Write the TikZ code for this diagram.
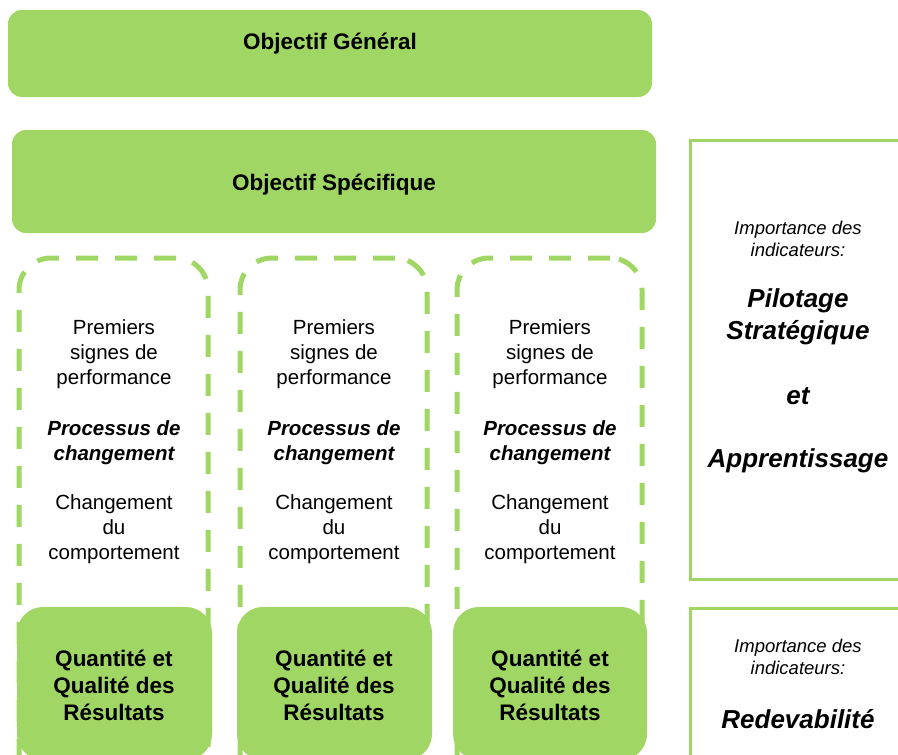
\documentclass[tikz,border=0pt]{standalone}
\usepackage{fontspec}
\setmainfont{Liberation Sans}
\definecolor{leafgreen}{RGB}{160,214,99}
\tikzset{greenbox/.style={fill=leafgreen, draw=none, rounded corners=14pt}}
\tikzset{resultbox/.style={fill=leafgreen, draw=none, rounded corners=26pt}}
\tikzset{dashbox/.style={draw=leafgreen, line width=5pt, dash pattern=on 22pt off 17pt, rounded corners=32pt}}
\tikzset{sidebox/.style={draw=leafgreen, line width=3pt, fill=white}}
\tikzset{coltext/.style={align=center, font=\fontsize{20.5}{25}\selectfont}}
\tikzset{colhead/.style={align=center, font=\fontsize{20.5}{25}\selectfont\bfseries\itshape}}
\tikzset{restext/.style={align=center, font=\fontsize{22.5}{27}\selectfont\bfseries}}
\tikzset{sidesmall/.style={align=center, font=\fontsize{18.5}{22}\selectfont\itshape}}
\tikzset{sidebig/.style={align=center, font=\fontsize{26}{32}\selectfont\bfseries\itshape}}

\begin{document}
\begin{tikzpicture}[x=1pt, y=-1pt]
    \newcommand\posA{114}
    \newcommand\posB{334}
    \newcommand\posC{550}
    \newcommand\posR{798}

    \useasboundingbox (0, 0) rectangle (898, 755);
    \clip (0, 0) rectangle (898, 755);

    \node[greenbox, minimum width=644pt, minimum height=87pt] (gen) at (330, 53.5){};
    \node[font=\fontsize{22.5}{27}\selectfont\bfseries] (genlab) at (330, 43.5){Objectif Général};
    \node[greenbox, minimum width=644pt, minimum height=103pt] (spec) at (334, 181.5){};
    \node[font=\fontsize{22.5}{27}\selectfont\bfseries] (speclab) at (334, 184.5){Objectif Spécifique};

    \node[dashbox, minimum width=189pt, minimum height=560pt] (colA) at (113.5, 538){};
    \node[dashbox, minimum width=187pt, minimum height=560pt] (colB) at (333.5, 538){};
    \node[dashbox, minimum width=185pt, minimum height=560pt] (colC) at (549.5, 538){};

    \node[coltext] (perfA) at (\posA, 354.5){Premiers\\signes de\\performance};
    \node[colhead] (procA) at (\posA, 442.5){Processus de\\changement};
    \node[coltext] (compA) at (\posA, 529.5){Changement\\du\\comportement};
    \node[coltext] (perfB) at (\posB, 354.5){Premiers\\signes de\\performance};
    \node[colhead] (procB) at (\posB, 442.5){Processus de\\changement};
    \node[coltext] (compB) at (\posB, 529.5){Changement\\du\\comportement};
    \node[coltext] (perfC) at (\posC, 354.5){Premiers\\signes de\\performance};
    \node[colhead] (procC) at (\posC, 442.5){Processus de\\changement};
    \node[coltext] (compC) at (\posC, 529.5){Changement\\du\\comportement};

    \node[resultbox, minimum width=195pt, minimum height=153pt] (resA) at (114.5, 683.5){};
    \node[resultbox, minimum width=195pt, minimum height=153pt] (resB) at (334.5, 683.5){};
    \node[resultbox, minimum width=194pt, minimum height=153pt] (resC) at (550, 683.5){};
    \node[restext] (resAlab) at (\posA, 685.5){Quantité et\\Qualité des\\Résultats};
    \node[restext] (resBlab) at (\posB, 685.5){Quantité et\\Qualité des\\Résultats};
    \node[restext] (resClab) at (\posC, 685.5){Quantité et\\Qualité des\\Résultats};

    \node[sidebox, minimum width=240pt, minimum height=439pt] (pilot) at (810, 359.5){};
    \node[sidesmall] (pilotimp) at (\posR, 238.5){Importance des\\indicateurs:};
    \node[sidebig] (pilotstrat) at (\posR, 317){Pilotage\\Stratégique};
    \node[sidebig] (pilotet) at (\posR, 396){et};
    \node[sidebig] (pilotapp) at (\posR, 461){Apprentissage};

    \node[sidebox, minimum width=240pt, minimum height=180pt] (redev) at (810, 698){};
    \node[sidesmall] (redevimp) at (\posR, 657){Importance des\\indicateurs:};
    \node[sidebig] (redevlab) at (\posR, 719){Redevabilité};
\end{tikzpicture}
\end{document}
